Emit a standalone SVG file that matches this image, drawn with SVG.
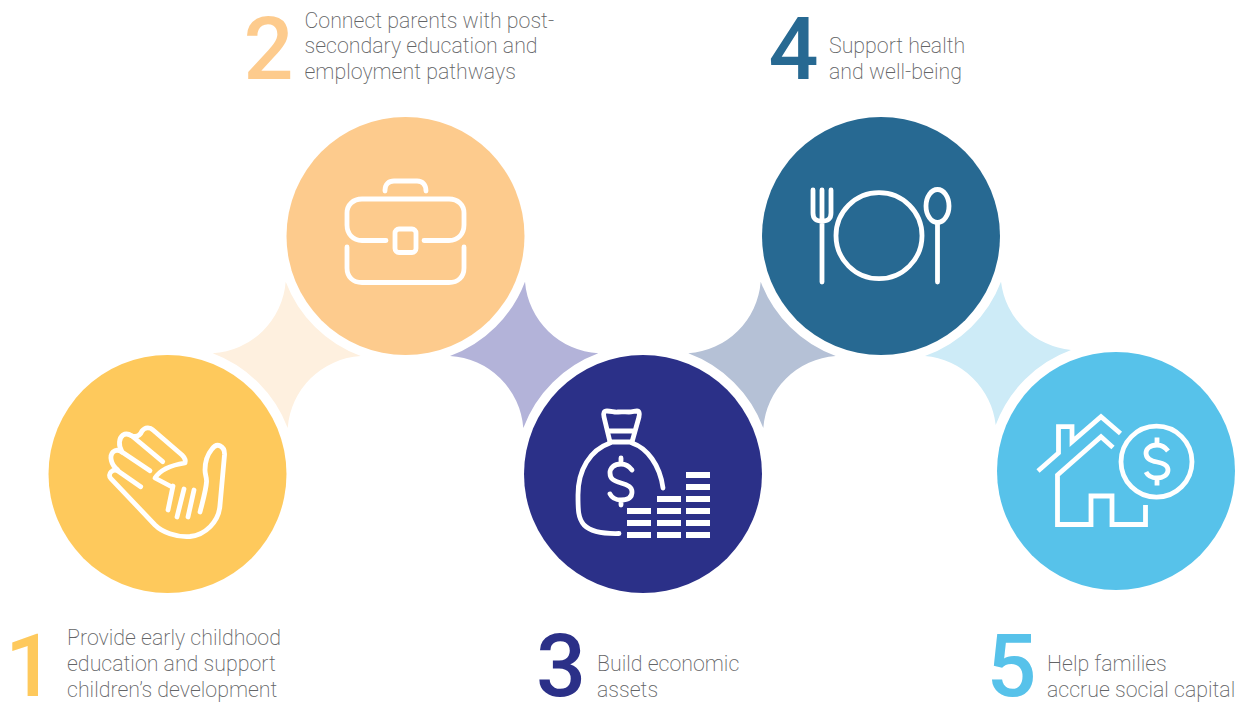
<svg xmlns="http://www.w3.org/2000/svg" width="1238" height="702" viewBox="0 0 1238 702">
<style>
.t{font-family:Roboto,"Liberation Sans",sans-serif;font-weight:200;font-size:21.35px;fill:#636466}
.n{font-family:Roboto,"Liberation Sans",sans-serif;font-weight:500;font-size:88px}
.i{fill:none;stroke:#fff;stroke-width:4.8;stroke-linecap:round;stroke-linejoin:round}
.h{fill:none;stroke:#fff;stroke-width:4.8;stroke-linecap:butt;stroke-linejoin:miter}
.b{fill:#fff}
</style>
<rect width="1238" height="702" fill="#fff"/>
<g id="connectors">
<path fill="#fef0df" d="M285.700 281.700A127 127 0 0 0 360.700 356A78 78 0 0 0 287.700 428A129 129 0 0 0 212.700 353.300A78 78 0 0 0 285.700 281.700Z"/>
<path fill="#b3b3d9" d="M525 281.700A78 78 0 0 0 598.300 353.300A127 127 0 0 0 523.300 428A78 78 0 0 0 450 356A127 127 0 0 0 525 281.700Z"/>
<path fill="#b5c1d6" d="M760.700 281.700A127 127 0 0 0 835.700 356A78 78 0 0 0 763.300 428A127 127 0 0 0 688.300 353.300A78 78 0 0 0 760.700 281.700Z"/>
<path fill="#cdebf7" d="M1001 281.700A78 78 0 0 0 1071 350A127 127 0 0 0 995.700 425A78 78 0 0 0 925 356A127 127 0 0 0 1001 281.700Z"/>
</g>
<g id="node1">
<circle cx="167.500" cy="474" r="119" fill="#fec95c"/>
<path class="i" d="M140.700 486.700L118 471C113 468 107 474 110.700 478.300L155 525C162 532 176 537.500 190 536.500C205 535 219 522 220 505L224.500 455C225 446 217 442 212 449C207 455 205 462 205 470C205 475 207 478 206.500 482C206 490 203 500 200 512"/>
<path class="i" d="M117.700 470C111 465 109 456 113 452C116 449 119 450 122 452L150 470.700"/>
<path class="i" d="M122 452C118 445 119 438 123 435C126 433 129 434 132 436L162.700 461.700"/>
<path class="i" d="M132 436C137 437 140 436 142 431C145 427 150 427 153 430L182 455C184 457 186 460 185 463C172 465 160 470 155 478L172 487"/>
<path class="i" d="M173 486L168 510M184 489L177 517M194 490L188 517"/>
</g>
<g id="node2">
<circle cx="405.500" cy="236" r="119" fill="#fdcb8d"/>
<path class="i" d="M385 191V190C385 184 389 181 394 181H417C423 181 426 185 426 191"/>
<path class="i" d="M386 240.500H362C353 240.500 347 234 347 225V213C347 205 353 199 362 199H449C458 199 464 205 464 213V225C464 234 458 240.500 449 240.500H424"/>
<rect class="i" x="395" y="229" width="21" height="23.500" rx="4"/>
<path class="i" d="M347 247V268C347 277 353 282.500 362 282.500H449C458 282.500 464 277 464 268V247"/>
</g>
<g id="node3">
<circle cx="643" cy="474" r="119" fill="#2b3088"/>
<path class="i" d="M610 442L604 417C603 413 604 411 607 411C612 411 614 412.500 618 412C622 411.500 625 412 629 412C632 412 635 411 637 411C639 411 640 413 639 417L632 442"/>
<path class="i" d="M608 431H633M610 442H632"/>
<path class="i" d="M610 443C590 450 578 470 578 495C578 510 578 518 584 525C590 531 600 534 619 533.500"/>
<path class="i" d="M632 443C647 448 660 465 663 488"/>
<path class="i" d="M632 470C629 466 626 464 621 464C614 464 610 468 610 473C610 479 614 481 621 483C628 485 632 487 632 492C632 498 627 500 621 500C616 500 612 498 610 494M621 458V464M621 500V505"/>
<g class="b"><rect x="627" y="508" width="24" height="6"/><rect x="627" y="520" width="24" height="6"/><rect x="627" y="532" width="24" height="6"/><rect x="657" y="496" width="24" height="6"/><rect x="657" y="508" width="24" height="6"/><rect x="657" y="520" width="24" height="6"/><rect x="657" y="532" width="24" height="6"/><rect x="686" y="472" width="24" height="6"/><rect x="686" y="484" width="24" height="6"/><rect x="686" y="496" width="24" height="6"/><rect x="686" y="508" width="24" height="6"/><rect x="686" y="520" width="24" height="6"/><rect x="686" y="532" width="24" height="6"/></g>
</g>
<g id="node4">
<circle cx="881" cy="236" r="119" fill="#276992"/>
<path class="i" d="M813 190V213C813 219 816 221 822 221C828 221 831 219 831 213V190M822 190V282"/>
<circle class="i" cx="879" cy="235.700" r="43"/>
<ellipse class="i" cx="937.500" cy="206" rx="11.500" ry="16.500"/>
<path class="i" d="M937.500 223V282"/>
</g>
<g id="node5">
<circle cx="1116" cy="471" r="119" fill="#57c2ea"/>
<path class="h" d="M1038 471L1058.500 453V426.700H1072V441.700L1101 416.700L1120.500 433.500"/>
<path class="h" d="M1113 447.500L1101 436.700L1057.500 475V524.500H1091V496H1112V524.500H1145.500V505"/>
<circle class="h" cx="1156.500" cy="461.700" r="35.500"/>
<path class="h" d="M1168 451C1165 447 1161 445 1157 445C1150 445 1146 449 1146 453C1146 459 1151 461 1157 462C1163 463 1168 465 1168 470C1168 475 1163 478 1157 478C1152 478 1148 476 1146 472M1157 437.500V445M1157 478V485.500"/>
</g>
<g id="labels">
<text class="n" x="5" y="696" fill="#fec95c">1</text>
<text class="t" x="67" y="645">Provide early childhood</text><text class="t" x="67" y="671">education and support</text><text class="t" x="67" y="697">children’s development</text>
<text class="n" x="243.500" y="79" fill="#fdcb8d">2</text>
<text class="t" x="304.500" y="28">Connect parents with post-</text><text class="t" x="304.500" y="53">secondary education and</text><text class="t" x="304.500" y="79">employment pathways</text>
<text class="n" x="536" y="696" fill="#2b3088">3</text>
<text class="t" x="597" y="671">Build economic</text><text class="t" x="597" y="697">assets</text>
<text class="n" x="768.500" y="79" fill="#276992">4</text>
<text class="t" x="829" y="53">Support health</text><text class="t" x="829" y="79">and well-being</text>
<text class="n" x="986.500" y="696" fill="#57c2ea">5</text>
<text class="t" x="1047" y="671">Help families</text><text class="t" x="1047" y="697">accrue social capital</text>
</g>
</svg>
